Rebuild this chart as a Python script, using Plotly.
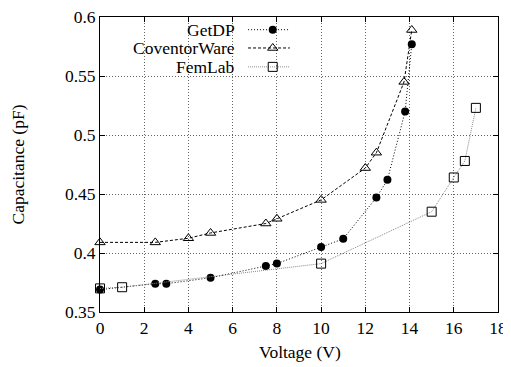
import plotly.graph_objects as go

getdp_v = [0, 2.5, 3, 5, 7.5, 8, 10, 11, 12.5, 13, 13.8, 14.1]
getdp_c = [0.369, 0.374, 0.374, 0.379, 0.389, 0.391, 0.405, 0.412, 0.447, 0.462, 0.520, 0.577]

cov_v = [0, 2.5, 4, 5, 7.5, 8, 10, 12, 12.5, 13.75, 14.1]
cov_c = [0.409, 0.409, 0.4125, 0.417, 0.425, 0.429, 0.445, 0.472, 0.485, 0.545, 0.589]

fem_v = [0, 1, 10, 15, 16, 16.5, 17]
fem_c = [0.370, 0.371, 0.391, 0.435, 0.464, 0.478, 0.523]

series_names = ["GetDP", "CoventorWare", "FemLab"]
x_ticks = [0, 2, 4, 6, 8, 10, 12, 14, 16, 18]
y_ticks = [0.35, 0.4, 0.45, 0.5, 0.55, 0.6]

FONT = "Liberation Serif, Times New Roman, DejaVu Serif, serif"
FS = 17.5

styles = [
    dict(line=dict(color="black", width=1, dash="1px,2px"),
         marker=dict(symbol="circle", size=8, color="black")),
    dict(line=dict(color="black", width=1, dash="3px,2px"),
         marker=dict(symbol="triangle-up-open", size=9, color="black", line=dict(width=1))),
    dict(line=dict(color="#888888", width=1, dash="1px,1px"),
         marker=dict(symbol="square-open", size=9, color="black", line=dict(width=1))),
]

fig = go.Figure()
for (v, c), name, st in zip([(getdp_v, getdp_c), (cov_v, cov_c), (fem_v, fem_c)], series_names, styles):
    fig.add_trace(go.Scatter(x=v, y=c, mode="lines+markers", name=name,
                             line=st["line"], marker=st["marker"], showlegend=False, cliponaxis=False))

# gnuplot-style key: text right-aligned, sample to the right
key_rows = [0.957, 0.895, 0.831]
for name, st, yk in zip(series_names, styles, key_rows):
    fig.add_trace(go.Scatter(x=[0.372, 0.477], y=[yk, yk], mode="lines", xaxis="x2", yaxis="y2",
                             line=st["line"], showlegend=False, hoverinfo="skip"))
    fig.add_trace(go.Scatter(x=[0.434], y=[yk], mode="markers", xaxis="x2", yaxis="y2",
                             marker=st["marker"], showlegend=False, hoverinfo="skip"))
    fig.add_annotation(x=0.345, y=yk, xref="paper", yref="paper", text=name, showarrow=False,
                       xanchor="right", yanchor="middle", font=dict(family=FONT, size=FS, color="black"))

# axis titles
fig.add_annotation(x=0.5025, y=-0.136, xref="paper", yref="paper", text="Voltage (V)", showarrow=False,
                   xanchor="center", yanchor="middle", font=dict(family=FONT, size=FS, color="black"))
fig.add_annotation(x=-0.2085, y=0.5, xref="paper", yref="paper", text="Capacitance (pF)", showarrow=False,
                   textangle=-90, xanchor="center", yanchor="middle", font=dict(family=FONT, size=FS, color="black"))

axis_common = dict(showline=True, linecolor="black", linewidth=1, mirror="ticks",
                   ticks="inside", ticklen=5, tickcolor="black", automargin=False,
                   ticklabeloverflow="allow",
                   showgrid=True, gridcolor="#666666", griddash="1px,2px", gridwidth=1,
                   zeroline=False, tickfont=dict(family=FONT, size=FS, color="black"))

# page body has an 8px default margin; size the figure so the plot area lands where the reference has it
fig.update_layout(
    width=503, height=359,
    margin=dict(l=92, r=13, t=9, b=55),
    paper_bgcolor="white", plot_bgcolor="white",
    font=dict(family=FONT, color="black"),
    xaxis=dict(range=[0, 18], tickvals=x_ticks, **axis_common),
    yaxis=dict(range=[0.35, 0.6], tickvals=y_ticks, **axis_common),
    xaxis2=dict(overlaying="x", range=[0, 1], visible=False),
    yaxis2=dict(overlaying="y", range=[0, 1], visible=False),
)

fig.write_html("out.html")
